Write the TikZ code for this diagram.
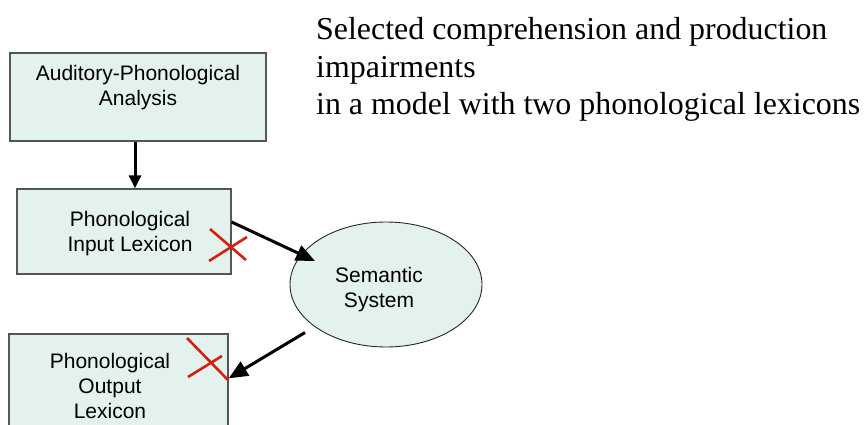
\documentclass[tikz,border=0pt]{standalone}
\usepackage{fontspec}
\setmainfont{Liberation Serif}
\newfontfamily\boxfont{Liberation Sans}
\usetikzlibrary{arrows.meta,shapes.geometric}
\definecolor{mint}{RGB}{227,242,236}
\definecolor{edge}{RGB}{85,85,85}
\definecolor{cross}{RGB}{212,32,16}
\begin{document}
\begin{tikzpicture}[x=1pt,y=-1pt,
  module/.style={draw=edge,line width=1.3pt,fill=mint,inner sep=0pt},
  boxtext/.style={font=\boxfont\fontsize{21}{25}\selectfont,align=center,inner sep=0pt,anchor=north},
  arr/.style={line width=3pt,-{Triangle[length=19pt,width=16pt]}},
  arrsmall/.style={line width=3pt,-{Triangle[length=13pt,width=12pt]}},
  cut/.style={draw=cross,line width=2.6pt},
  title/.style={font=\fontsize{31.9}{38}\selectfont,anchor=base west,inner sep=0pt}]
\useasboundingbox (0,0) rectangle (867,425);
\clip (0,0) rectangle (867,425);

% heading
\node[title] (t1) at (316,40) {Selected comprehension and production};
\node[title] (t2) at (316,77.5) {impairments};
\node[title] (t3) at (316,115) {in a model with two phonological lexicons};

% processing modules
\node[module,minimum width=256pt,minimum height=88pt] (aud) at (138,97) {};
\node[boxtext] (audtxt) at (138,65) {Auditory-Phonological\\Analysis};

\node[module,minimum width=214pt,minimum height=85pt] (pin) at (124,231.5) {};
\node[boxtext] (pintxt) at (130,211) {Phonological\\Input Lexicon};

\node[module,minimum width=219pt,minimum height=110pt] (pout) at (118.5,389) {};
\node[boxtext] (pouttxt) at (110,353) {Phonological\\Output\\Lexicon};

\node[ellipse,draw=black!85,line width=0.9pt,fill=mint,inner sep=0pt,
      minimum width=192pt,minimum height=125pt] (sem) at (386,284.5) {};
\node[boxtext] (semtxt) at (379,267) {Semantic\\System};

% connections
\draw[arrsmall] ([xshift=-3pt]aud.south) -- ([xshift=-3pt]aud.south |- pin.north);
\draw[arr] ([yshift=9.5pt]pin.east) -- ([shift={(-71,-23.5)}]sem.center);
\draw[arr] ([shift={(-81,48)}]sem.center) -- ([yshift=-45pt]pout.north east);

% impairment marks
\draw[cut] (210,229) -- (246,260);
\draw[cut] (209,261) -- (247,237);
\draw[cut] (187,338) -- (228,380);
\draw[cut] (188,377) -- (222,356);
\end{tikzpicture}
\end{document}
